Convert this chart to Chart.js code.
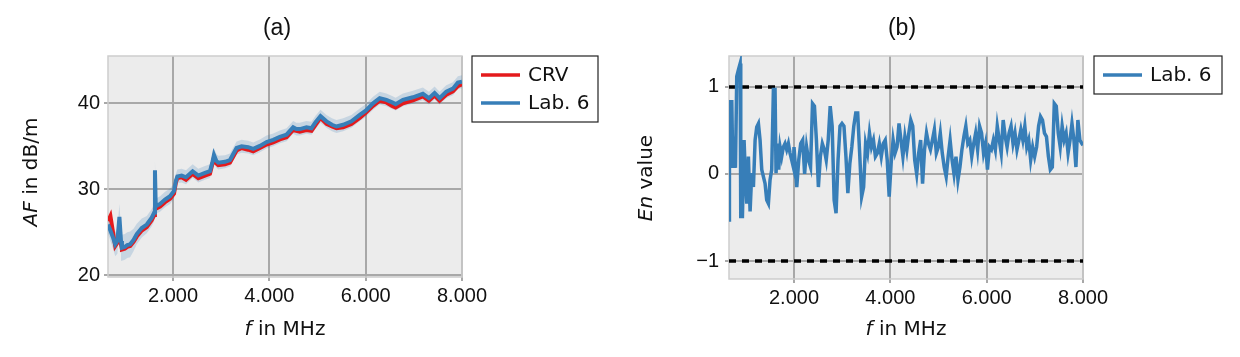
<!DOCTYPE html>
<html><head><meta charset="utf-8">
<script src="https://cdn.jsdelivr.net/npm/chart.js@4.4.1/dist/chart.umd.min.js"></script>
<style>
html,body{margin:0;padding:0;background:#fff;}
#wrap{position:relative;width:1240px;height:357px;overflow:hidden;}
.c{position:absolute;top:0;width:620px;height:357px;}
</style></head><body>
<div id="wrap">
<div class="c" style="left:0"><canvas id="ca" width="620" height="357"></canvas></div>
<div class="c" style="left:620px"><canvas id="cb" width="620" height="357"></canvas></div>
</div>
<script>
// ---------- data ----------
const xMin = 650, xMax = 8000;
const xTicks = [2000, 4000, 6000, 8000];
const xTickLabels = ['2.000', '4.000', '6.000', '8.000'];
const yTicksA = [20, 30, 40];
const yTickLabelsA = ['20', '30', '40'];
const yTicksB = [-1, 0, 1];
const yTickLabelsB = ['\u22121', '0', '1'];
const titleA = '(a)';
const titleB = '(b)';
const seriesNames = ['CRV', 'Lab. 6'];

const afFreq = [650,700,760,800,845,887,920,940,1000,1050,1110,1180,1247,1351,1455,1558,1610,1625,1640,1665,1731,1834,1938,2021,2060,2090,2180,2270,2408,2525,2663,2767,2820,2850,2900,2940,3078,3182,3320,3424,3561,3665,3804,3942,4080,4218,4357,4494,4560,4633,4771,4875,4960,5062,5186,5300,5394,5532,5704,5877,6001,6153,6291,6429,6550,6622,6774,6981,7188,7313,7431,7534,7673,7811,7914,8000];
const afLab6 = [25.9,25.2,24.3,23.6,24.0,26.8,24.0,23.2,23.3,23.5,23.6,24.1,24.8,25.5,25.9,26.7,27.3,32.2,28.4,28.1,28.3,28.8,29.2,29.8,31.0,31.5,31.6,31.4,32.1,31.6,31.9,32.1,33.2,34.0,33.3,33.1,33.2,33.4,34.8,35.0,34.9,34.7,35.05,35.5,35.75,36.1,36.35,37.2,37.0,37.0,37.2,37.1,37.8,38.5,37.9,37.5,37.3,37.5,37.9,38.65,39.15,40.0,40.6,40.4,40.1,39.9,40.4,40.7,41.1,40.6,41.2,40.6,41.35,41.7,42.4,42.5];
const afCRV = [26.3,26.9,24.8,23.4,23.8,24.2,23.6,23.0,23.1,23.3,23.4,23.9,24.5,25.2,25.6,26.4,27.0,27.8,27.9,27.8,28.0,28.5,28.9,29.5,30.8,31.3,31.4,31.1,31.8,31.3,31.6,31.8,33.0,33.7,33.0,32.8,32.9,33.1,34.5,34.8,34.6,34.4,34.8,35.2,35.45,35.8,36.05,36.9,36.8,36.7,36.9,36.8,37.5,38.3,37.6,37.3,37.1,37.2,37.6,38.3,38.9,39.7,40.3,40.1,39.7,39.5,40.0,40.35,40.8,40.3,40.9,40.3,41.0,41.4,42.0,42.2];
const afLab6Unc = [1.0,1.2,1.3,1.4,1.5,1.5,1.5,1.5,1.5,1.5,1.5,1.3,1.2,1.1,1.0,1.0,1.0,1.2,1.0,0.9,0.9,0.9,0.9,0.9,0.8,0.8,0.8,0.8,0.8,0.8,0.8,0.8,0.8,0.8,0.8,0.8,0.75,0.75,0.75,0.75,0.75,0.75,0.75,0.75,0.75,0.75,0.75,0.75,0.75,0.75,0.75,0.75,0.75,0.75,0.75,0.75,0.75,0.75,0.75,0.75,0.75,0.75,0.75,0.75,0.75,0.75,0.75,0.75,0.75,0.75,0.75,0.75,0.75,0.75,0.75,0.75];

const enFreq = [650,659,708,729,756,784,811,846,881,894,929,963,984,1019,1053,1088,1122,1157,1192,1226,1261,1295,1330,1364,1399,1433,1468,1502,1537,1572,1606,1627,1654,1682,1710,1744,1779,1813,1848,1883,1917,1952,1986,
2000,2057,2098,2139,2180,2220,2261,2302,2343,2384,2424,2465,2506,2547,2588,2629,2669,2710,2751,2792,2833,2873,2914,2955,2996,3037,3078,3118,3159,3200,3241,3282,3322,3363,3404,3445,3486,3527,3567,3608,3649,3690,3731,3771,3812,3853,3894,3935,3976,
4016,4057,4098,4139,4180,4220,4261,4302,4343,4384,4424,4465,4506,4547,4588,4629,4669,4710,4751,4792,4833,4873,4914,4955,4996,5037,5078,5118,5159,5200,5241,5282,5322,5363,5404,5445,5486,5527,5567,5608,5649,5690,5731,5771,5812,5853,5894,5935,5976,
6016,6057,6098,6139,6180,6220,6261,6302,6343,6384,6424,6465,6506,6547,6588,6629,6669,6710,6751,6792,6833,6873,6914,6955,6996,7037,7078,7118,7159,7200,7241,7282,7322,7363,7404,7445,7486,7527,7567,7608,7649,7690,7731,7771,7812,7853,7894,7935,7976,8000];
const enLab6 = [-0.53,0.83,0.83,0.07,0.43,0.07,1.12,1.2,1.27,-0.49,-0.49,0.39,0.07,-0.34,0.2,-0.43,0.01,-0.15,0.39,0.54,0.58,0.39,0.05,-0.03,-0.11,-0.3,-0.34,-0.07,0.05,0.97,0.97,0.01,0.35,0.05,0.31,0.2,0.31,0.35,0.28,0.35,0.24,0.16,0.08,
0.31,-0.15,0.16,0.35,0.39,0.0,0.31,0.16,0.08,0.81,0.78,0.39,-0.15,0.2,0.35,0.28,0.16,0.39,0.78,0.55,-0.3,-0.45,0.16,0.55,0.58,0.55,0.2,-0.22,0.12,0.31,0.55,0.7,0.7,0.24,-0.26,-0.15,0.35,0.24,0.47,0.31,0.39,0.2,0.24,0.35,0.2,0.35,0.39,0.16,-0.26,
0.12,0.39,0.24,0.31,0.58,0.39,0.2,0.43,0.28,0.47,0.62,0.55,0.16,0.0,0.24,0.39,-0.11,0.28,0.47,0.35,0.28,0.39,0.51,0.24,0.31,0.47,0.24,0.08,-0.03,0.2,0.39,0.16,0.0,0.2,-0.07,0.08,0.28,0.43,0.55,0.35,0.39,0.2,0.35,0.47,0.28,0.55,0.47,0.24,0.35,
0.05,0.31,0.28,0.39,0.28,0.55,0.39,0.24,0.62,0.43,0.31,0.47,0.55,0.35,0.47,0.28,0.39,0.51,0.39,0.55,0.31,0.39,0.16,0.31,0.2,0.31,0.55,0.66,0.62,0.47,0.43,0.2,0.05,0.08,0.81,0.78,0.47,0.31,0.55,0.39,0.47,0.24,0.39,0.58,0.39,0.08,0.62,0.39,0.35,0.33];
const enLimits = [-1, 1];

// ---------- style ----------
const RED = '#e41a1c', BLUE = '#377eb8', BAND = 'rgba(55,126,184,0.2)';
const FONT = 'Liberation Sans, Arial, sans-serif';
const FONT2 = 'DejaVu Sans, sans-serif';
const GRID = '#a8a8a8';

const pts = (xs, ys) => xs.map((x, i) => ({x: x, y: ys[i]}));

const decor = {
  id: 'decor',
  beforeDraw(chart, args, o) {
    const {ctx, chartArea: a} = chart;
    ctx.save();
    ctx.fillStyle = '#ececec';
    ctx.fillRect(a.left, a.top, a.right - a.left, a.bottom - a.top);
    ctx.restore();
  },
  beforeDatasetsDraw(chart, args, o) {
    const {ctx, chartArea: a} = chart;
    ctx.save();
    ctx.strokeStyle = '#cdcdcd';
    ctx.lineWidth = 1.5;
    ctx.strokeRect(a.left, a.top, a.right - a.left, a.bottom - a.top);
    ctx.restore();
  },
  afterDraw(chart, args, o) {
    const {ctx, chartArea: a} = chart;
    ctx.save();
    ctx.fillStyle = '#111';
    ctx.textBaseline = 'middle';
    // title
    ctx.font = '23px ' + FONT;
    ctx.textAlign = 'center';
    ctx.fillText(o.title, (a.left + a.right) / 2 + o.titleDx, 29);
    // mixed-style text helper
    const drawParts = (parts, cx, cy, rot) => {
      ctx.save();
      ctx.translate(cx, cy);
      ctx.rotate(rot);
      ctx.textAlign = 'left';
      ctx.fillStyle = '#111';
      let w = 0;
      parts.forEach(p => { ctx.font = (p.i ? 'italic ' : '') + '20px ' + FONT2; w += ctx.measureText(p.t).width; });
      let x = -w / 2;
      parts.forEach(p => { ctx.font = (p.i ? 'italic ' : '') + '20px ' + FONT2; ctx.fillText(p.t, x, 0); x += ctx.measureText(p.t).width; });
      ctx.restore();
    };
    drawParts(o.xTitle, (a.left + a.right) / 2, 330, 0);
    drawParts(o.yTitle, o.yTitleX, o.yTitleY, -Math.PI / 2);
    // legend
    const n = o.legend.length;
    const bx = a.right + o.legendDx, by = a.top;
    const bh = 38 + (n - 1) * 28;
    ctx.fillStyle = '#fff';
    ctx.fillRect(bx, by, o.legendW, bh);
    ctx.strokeStyle = '#222';
    ctx.lineWidth = 1.2;
    ctx.strokeRect(bx, by, o.legendW, bh);
    ctx.font = '20px ' + FONT2;
    ctx.textAlign = 'left';
    o.legend.forEach((it, i) => {
      const yy = by + 19 + i * 28;
      ctx.strokeStyle = it.color;
      ctx.lineWidth = 3.5;
      ctx.beginPath(); ctx.moveTo(bx + 9, yy); ctx.lineTo(bx + 48, yy); ctx.stroke();
      ctx.fillStyle = '#111';
      ctx.fillText(it.label, bx + 56, yy + 1);
    });
    ctx.restore();
  }
};

function scales(yMin, yMax, yTicks, yLabels, yWidth, xHeight, yPad) {
  const tickFont = {family: FONT, size: 20};
  return {
    x: {
      type: 'linear', min: xMin, max: xMax,
      afterBuildTicks: s => { s.ticks = xTicks.map(v => ({value: v})); },
      afterFit: s => { s.height = xHeight; },
      ticks: {callback: (v, i) => xTickLabels[i], font: tickFont, color: '#111', autoSkip: false, maxRotation: 0, padding: 3},
      grid: {color: GRID, lineWidth: 2, tickLength: 4, tickColor: GRID},
      border: {display: false}
    },
    y: {
      type: 'linear', min: yMin, max: yMax,
      afterBuildTicks: s => { s.ticks = yTicks.map(v => ({value: v})); },
      afterFit: s => { s.width = yWidth; },
      ticks: {callback: (v, i) => yLabels[i], font: tickFont, color: '#111', autoSkip: false, padding: yPad},
      grid: {color: GRID, lineWidth: 2, tickLength: 4, tickColor: GRID},
      border: {display: false}
    }
  };
}

const lab6Upper = afLab6.map((v, i) => v + afLab6Unc[i]);
const lab6Lower = afLab6.map((v, i) => v - afLab6Unc[i]);

new Chart(document.getElementById('ca'), {
  type: 'line',
  data: {
    datasets: [
      {label: seriesNames[1], data: pts(afFreq, afLab6), borderColor: BLUE, borderWidth: 4, pointRadius: 0, tension: 0, fill: false},
      {label: seriesNames[0], data: pts(afFreq, afCRV), borderColor: RED, borderWidth: 4, pointRadius: 0, tension: 0, fill: false},
      {label: 'Lab. 6 upper', data: pts(afFreq, lab6Upper), borderWidth: 0, borderColor: 'rgba(0,0,0,0)', backgroundColor: BAND, pointRadius: 0, tension: 0, fill: '+1'},
      {label: 'Lab. 6 lower', data: pts(afFreq, lab6Lower), borderWidth: 0, borderColor: 'rgba(0,0,0,0)', pointRadius: 0, tension: 0, fill: false}
    ]
  },
  options: {
    responsive: false, animation: false, devicePixelRatio: 1,
    layout: {padding: {left: 0, right: 158, top: 56, bottom: 0}},
    scales: scales(19.8, 45.5, yTicksA, yTickLabelsA, 108, 80, 4),
    plugins: {
      legend: {display: false}, tooltip: {enabled: false},
      decor: {
        title: titleA, titleDx: -8,
        xTitle: [{t: 'f', i: true}, {t: ' in MHz'}],
        yTitle: [{t: 'AF', i: true}, {t: ' in dB/m'}],
        yTitleX: 32, yTitleY: 172,
        legend: [{label: seriesNames[0], color: RED}, {label: seriesNames[1], color: BLUE}],
        legendDx: 10, legendW: 126
      }
    }
  },
  plugins: [decor]
});

new Chart(document.getElementById('cb'), {
  type: 'line',
  data: {
    datasets: [
      {label: seriesNames[1], data: pts(enFreq, enLab6), borderColor: BLUE, borderWidth: 3.5, pointRadius: 0, tension: 0, fill: false},
      ...enLimits.map(l => ({label: 'limit ' + l, data: [{x: xMin, y: l}, {x: xMax, y: l}], borderColor: '#000', borderWidth: 3.5, borderDash: [7, 6], pointRadius: 0, fill: false}))
    ]
  },
  options: {
    responsive: false, animation: false, devicePixelRatio: 1,
    layout: {padding: {left: 0, right: 157, top: 56, bottom: 0}},
    scales: scales(-1.207, 1.356, yTicksB, yTickLabelsB, 109, 78, 6),
    plugins: {
      legend: {display: false}, tooltip: {enabled: false},
      decor: {
        title: titleB, titleDx: -4,
        xTitle: [{t: 'f', i: true}, {t: ' in MHz'}],
        yTitle: [{t: 'En', i: true}, {t: ' value'}],
        yTitleX: 27, yTitleY: 178,
        legend: [{label: seriesNames[1], color: BLUE}],
        legendDx: 11, legendW: 128
      }
    }
  },
  plugins: [decor]
});
</script>
</body></html>
